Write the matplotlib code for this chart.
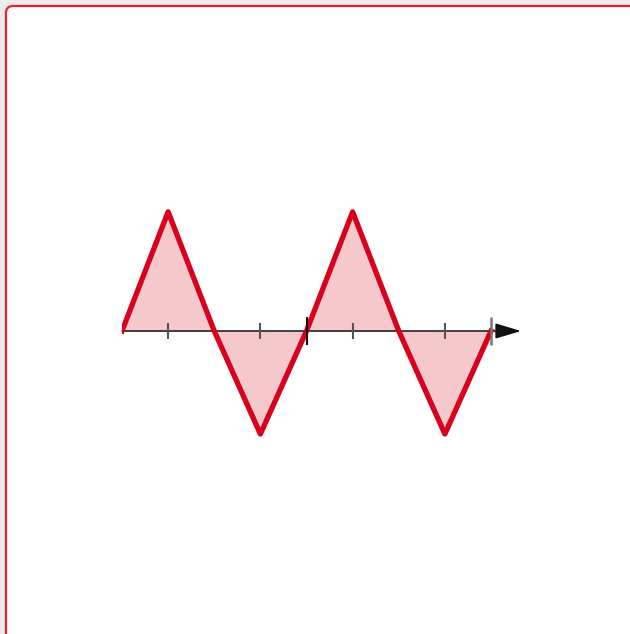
import matplotlib
matplotlib.use("Agg")
import matplotlib.pyplot as plt
from matplotlib.patches import FancyBboxPatch

# Tocke trikotnega signala (x v cetrtinah periode)
wave_x = [0, 1, 2, 3, 4, 5, 6, 7, 8]
wave_y = [0, 1.18, 0, -1.02, 0, 1.18, 0, -1.02, 0]

# Oznake na osi
small_ticks = [1, 3, 5, 7]
big_ticks = [4, 8]

W, H = 630, 634
fig = plt.figure(figsize=(W / 100, H / 100), dpi=100)
fig.patch.set_facecolor("#ececec")

# Okvir kartice z zaobljenimi robovi
card = FancyBboxPatch((6 / 100, -0.2), 7.0, (H - 6) / 100 + 0.2,
                      boxstyle="round,pad=0,rounding_size=0.07",
                      transform=fig.dpi_scale_trans,
                      facecolor="white", edgecolor="#f51a30", linewidth=1.6,
                      zorder=-5)
fig.patches.append(card)

px_x = 46.125  # pikslov na enoto x
px_y = 101.0   # pikslov na enoto y
left, right = 122, 525
top, bottom = 195, 460
y0 = 331

ax = fig.add_axes([left / W, (H - bottom) / H, (right - left) / W, (bottom - top) / H])
ax.set_zorder(5)
ax.set_xlim(0, (right - left) / px_x)
ax.set_ylim(-(bottom - y0) / px_y, (y0 - top) / px_y)
ax.axis("off")
ax.patch.set_alpha(0)

ax.fill_between(wave_x, wave_y, 0, color="#f5c8cc", lw=0, zorder=1)

# Os z puscico
ax.annotate("", xy=((521 - left) / px_x, 0), xytext=(0, 0),
            arrowprops=dict(arrowstyle="-|>,head_length=1.0,head_width=0.3",
                            mutation_scale=16, color="#111111", lw=1.1,
                            shrinkA=0, shrinkB=0), zorder=2)

ax.plot(wave_x, wave_y, color="#d8001a", lw=3.8, solid_joinstyle="round", zorder=3)

ax.vlines(small_ticks, -0.08, 0.08, color="#555555", lw=1.5, zorder=4)
ax.vlines(big_ticks[:1], -0.14, 0.14, color="#111111", lw=1.5, zorder=4)
ax.vlines(big_ticks[1:], -0.14, 0.14, color="#777777", lw=1.8, zorder=4)

fig.savefig("out.png", dpi=100, facecolor=fig.get_facecolor())
